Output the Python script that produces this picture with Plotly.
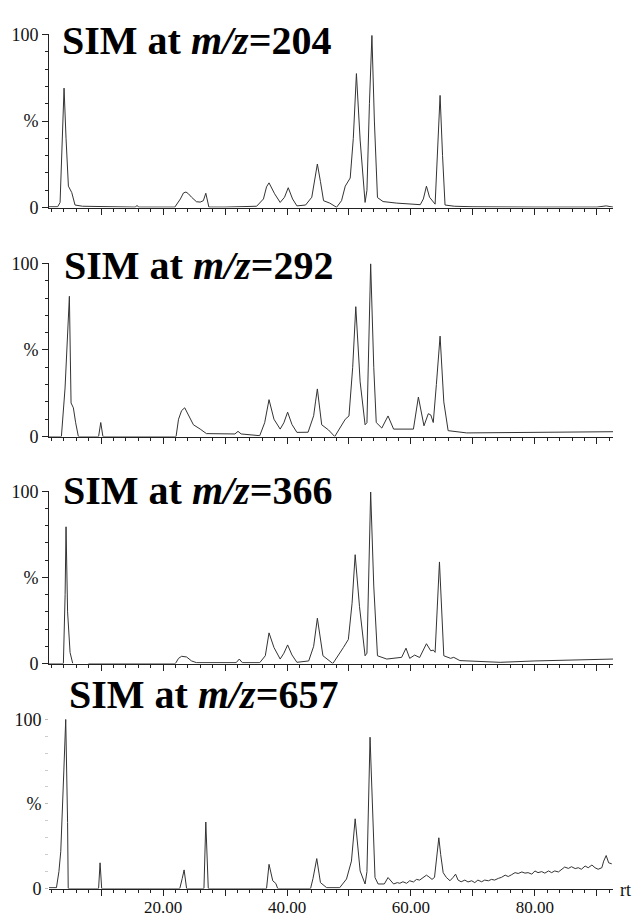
import plotly.graph_objects as go

# ---- data (retention time in min, relative intensity %) ----
rt_204 = [1.6, 3.0, 3.39, 3.66, 4.03, 4.35, 4.73, 5.27, 5.8, 7.0, 10.0, 15.5, 15.8, 16.1, 20.0,
          21.9, 22.8, 23.3, 23.7, 24.1, 24.6, 25.4, 26.0, 26.5, 26.9, 27.4, 30.0, 35.1, 36.2, 36.7,
          37.1, 38.0, 38.9, 39.6, 40.2, 40.9, 41.6, 43.0, 44.0, 44.5, 44.9, 45.4, 45.9, 46.9, 48.0,
          48.8, 49.4, 50.2, 50.7, 51.2, 51.8, 52.6, 52.9, 53.3, 53.7, 54.1, 54.6, 55.5, 57.7, 61.5,
          62.0, 62.5, 63.0, 63.9, 64.3, 64.7, 65.1, 65.5, 67.0, 70.0, 80.0, 90.0, 91.5, 92.6]
int_204 = [0.5, 0.5, 3, 29, 69, 40, 12.4, 8.7, 1.5, 0.8, 0.5, 0.3, 1.2, 0.3, 0.3,
           0.3, 5, 8.5, 9, 8, 6, 3.4, 3.2, 4, 8.3, 0.3, 0.3, 0.8, 5, 12,
           14.3, 8, 3, 6, 11.5, 5, 1, 1.5, 6, 18, 25.2, 15, 4, 2.6, 0.2,
           4, 12.4, 17.1, 40, 77.4, 39, 3, 10, 60, 99.4, 50, 5.8, 3.5, 2.6, 1.7,
           5, 12.4, 6, 2, 30, 64.8, 30, 1.5, 0.8, 0.5, 0.3, 0.3, 1.0, 0.3]

rt_292 = [1.6, 3.6, 4.19, 4.89, 5.16, 5.53, 5.9, 6.34, 9.6, 9.95, 10.3, 22.1, 22.5, 23.0, 23.5,
          24.0, 24.9, 26.0, 27.0, 31.6, 32.1, 32.6, 35.6, 36.4, 36.8, 37.1, 37.9, 38.9, 39.5, 40.1,
          40.8, 41.6, 43.4, 44.3, 44.6, 44.9, 45.6, 46.7, 47.7, 49.4, 50.0, 50.6, 51.1, 51.8, 52.6,
          52.9, 53.5, 54.0, 54.4, 55.3, 56.3, 57.2, 60.4, 61.2, 62.1, 62.8, 63.2, 63.6, 64.1, 64.7,
          65.3, 66.0, 69.0, 80.0, 92.6]
int_292 = [0, 0, 28, 81, 19.4, 16.6, 8, 0, 0, 8.1, 0, 0, 10, 15, 16.6,
           13, 6.8, 4.3, 1.7, 1.5, 3, 1.5, 0.5, 8, 16, 21.3, 10, 4.3, 8, 14.1,
           7, 2.4, 2.5, 12, 20, 27.5, 6.8, 3.8, 0, 10, 11.9, 40, 75, 31.6, 6.8,
           8, 99.8, 40, 8.1, 4.9, 11.9, 4.3, 4.3, 22.8, 6.2, 13.2, 12.5, 8.1, 30, 58,
           20, 3.4, 2.1, 2.3, 2.8]

rt_366 = [1.6, 3.92, 4.2, 4.35, 4.6, 5.0, 5.43, None, 7.95, 22.0, 22.5, 23.0, 23.8, 24.6, 25.4,
          31.8, 32.3, 32.8, 35.6, 36.5, 37.1, 37.9, 38.9, 39.5, 40.1, 40.8, 41.6, 43.5, 44.3, 44.9,
          45.8, 46.9, 47.4, 49.1, 49.9, 50.5, 51.0, 51.7, 52.6, 52.9, 53.5, 54.0, 54.6, 56.1, 58.5,
          59.2, 59.8, 60.6, 61.4, 62.5, 63.2, 63.6, 63.9, 64.6, 65.3, 66.4, 66.9, 67.9, 74.4, 80.0,
          92.6]
int_366 = [0, 0, 40, 79.4, 30, 6.4, 0, None, 0, 0, 3, 4.2, 3.8, 1.5, 0.5,
           0.5, 2.6, 0.5, 0.5, 4.5, 17.8, 9.3, 2.6, 6, 10.8, 5, 0.7, 1.5, 10, 26.3,
           4.5, 1.7, 0, 9.3, 14, 35, 63.2, 33, 4.5, 6, 99.6, 45, 4.5, 2.6, 3.6,
           8.9, 3, 4.9, 3.5, 11.5, 7.4, 7.8, 6.5, 59, 4.5, 3, 3.6, 1.7, 0.7, 1.5,
           2.6]

rt_657 = [1.6, 2.8, 3.2, 3.5, 4.0, 4.3, 4.6, 4.7, 9.6, 9.84, 10.1, 22.7, 23.1, 23.4, 23.8,
          26.6, 26.9, 27.3, 36.7, 37.1, 37.7, 38.2, 38.5, 43.8, 44.2, 44.8, 45.4, 46.4, 48.5, 49.6,
          50.4, 51.0, 51.8, 52.6, 52.9, 53.4, 54.2, 54.7, 55.7, 56.3, 57.2, 57.8,
          58.2, 58.7, 59.3, 59.8, 60.4, 60.9, 61.4, 62.0, 62.5, 62.9, 63.4, 63.8, 64.2, 64.5, 64.8,
          65.2, 65.7, 66.3, 66.8, 67.2, 67.6, 68.1, 68.7, 69.2, 69.8, 70.3, 70.8, 71.4, 71.9, 72.5,
          73.0, 73.5, 74.1, 74.6, 75.2, 75.7, 76.2, 76.8, 77.3, 77.9, 78.4, 78.9, 79.5, 80.0, 80.5,
          81.1, 81.6, 82.2, 82.7, 83.2, 83.8, 84.3, 84.8, 85.4, 85.9, 86.5, 87.0, 87.5, 88.1, 88.6,
          89.2, 89.7, 90.2, 90.8, 91.1, 91.5, 91.9, 92.4]
int_657 = [0.5, 0.5, 10, 22, 70, 100, 39, 0, 0, 15.2, 0, 0, 6, 11, 0,
           0, 39.3, 0, 0, 14.3, 4.6, 3, 0, 0, 6, 17.7, 3.5, 0.5, 0.5, 5.6,
           16.2, 41.2, 10.4, 2.7, 10, 89.4, 6.5, 2.7, 2.7, 6.5, 2.7, 3.5,
           3.1, 4.0, 3.1, 4.6, 3.9, 5.4, 5.0, 6.6, 7.9, 6.9, 5.4, 6.6, 20, 30, 20,
           9.4, 6.6, 4.6, 6.6, 8.5, 5.0, 4.0, 5.0, 3.9, 4.6, 3.5, 5.0, 4.0, 5.0, 4.6,
           5.4, 5.0, 6.0, 6.6, 7.9, 7.1, 8.1, 9.4, 8.9, 9.8, 9.1, 9.4, 8.5, 10.4, 9.4,
           10.0, 9.1, 10.4, 9.4, 10.4, 9.8, 11.4, 12.7, 11.9, 12.9, 11.8, 12.3, 11.4, 13.3, 12.3,
           13.9, 12.3, 11.4, 12.3, 16.2, 19.5, 15.2, 14.6]

titles = ["204", "292", "366", "657"]
x_ticks = [10, 20, 30, 40, 50, 60, 70, 80, 90]
x_ticktext = ["", "20.00", "", "40.00", "", "60.00", "", "80.00", ""]
y_ticks = [0, 50, 100]
y_ticktext = ["0", "%", "100"]

series = [(rt_204, int_204), (rt_292, int_292), (rt_366, int_366), (rt_657, int_657)]

# ---- layout geometry (pixels in a 632 x 923 page) ----
W, H = 632, 923
x_left, x_right = 49, 613
panels_px = [(202, 25), (436, 259), (668, 492), (898, 725)]  # (y of 0 %, y of 100 %)
title_px = [(60, 31), (62, 261.5), (61, 491.5), (67, 700)]

fig = go.Figure()
serif = "Liberation Serif, Times New Roman, serif"
ink = "#222222"

for i, (xs, ys) in enumerate(series):
    n = "" if i == 0 else str(i + 1)
    fig.add_trace(go.Scatter(x=xs, y=ys, mode="lines", xaxis="x" + n, yaxis="y" + n,
                             line=dict(color="#333333", width=1), connectgaps=False,
                             hoverinfo="skip"))
    y0, y100 = panels_px[i]
    last = (i == 3)
    fig.layout["xaxis" + n] = dict(
        domain=[x_left / W, x_right / W], range=[1.6, 92.6], anchor="y" + n,
        showline=True, linecolor=ink, linewidth=1, showgrid=False, zeroline=False,
        ticks="outside", ticklen=6, tickcolor=ink, tickwidth=1,
        tickmode="array", tickvals=x_ticks,
        ticktext=x_ticktext if last else [""] * len(x_ticks),
        tickfont=dict(family=serif, size=17, color="#111"),
        ticklabelstandoff=-3,
        minor=dict(tickmode="linear", tick0=0, dtick=2, ticks="outside", ticklen=3,
                   tickcolor=ink, tickwidth=1, showgrid=False),
        fixedrange=True)
    fig.layout["yaxis" + n] = dict(
        domain=[1 - y0 / H, 1 - y100 / H], range=[0, 100], anchor="x" + n,
        showline=not last, linecolor=ink, linewidth=1, showgrid=False, zeroline=False,
        ticks="outside", ticklen=6 if not last else 3,
        tickcolor=ink if not last else "#bbbbbb", tickwidth=1,
        tickmode="array", tickvals=y_ticks, ticktext=y_ticktext,
        tickfont=dict(family=serif, size=18, color="#111"),
        minor=dict(tickmode="linear", tick0=0, dtick=10, ticks="outside", ticklen=3,
                   tickcolor=ink if not last else "#cccccc", tickwidth=1, showgrid=False),
        fixedrange=True)
    tx, ty = title_px[i]
    fig.add_annotation(x=tx / W, y=1 - ty / H, xref="paper", yref="paper",
                       xanchor="left", yanchor="middle", showarrow=False,
                       text="<b>SIM at <i>m/z</i>=" + titles[i] + "</b>",
                       font=dict(family=serif, size=40, color="#000"))

fig.add_annotation(x=625 / W, y=1 - 900 / H, xref="paper", yref="paper",
                   xanchor="center", yanchor="middle", showarrow=False, text="rt",
                   font=dict(family=serif, size=18, color="#111"))

fig.update_layout(width=W, height=H, margin=dict(l=0, r=0, t=0, b=0),
                  paper_bgcolor="white", plot_bgcolor="white", showlegend=False)

fig.write_html("out.html", config={"displayModeBar": False},
               post_script="document.body.style.margin='0px';")
